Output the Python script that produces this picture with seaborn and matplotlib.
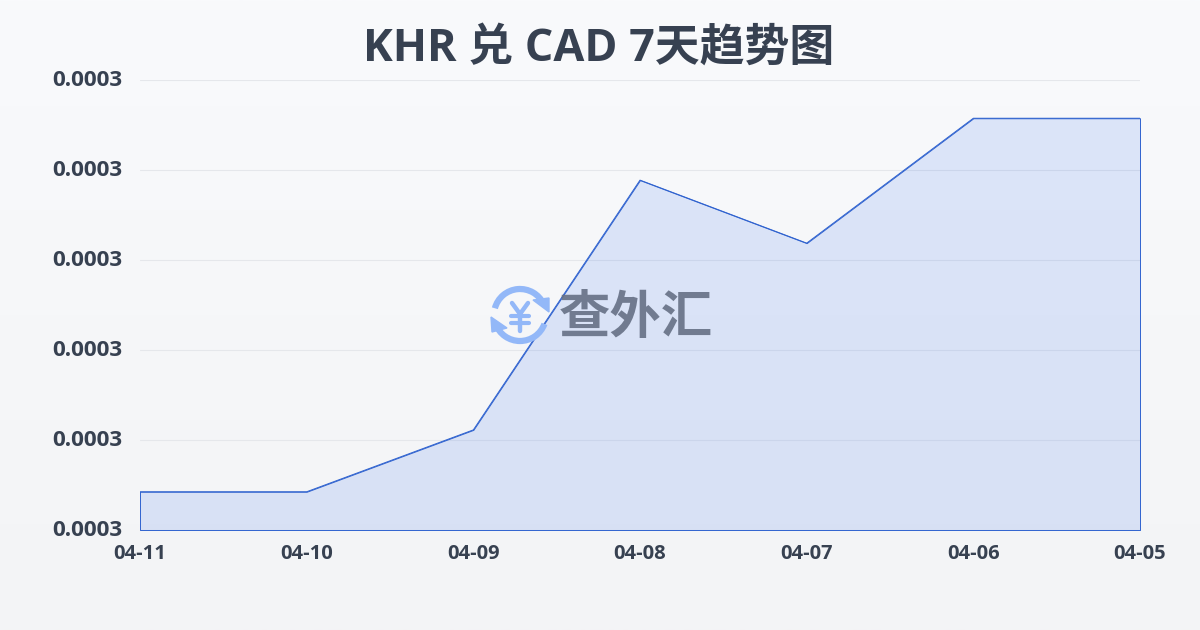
import numpy as np
import pandas as pd
import seaborn as sns
import matplotlib
matplotlib.use("Agg")
import matplotlib.pyplot as plt
from matplotlib.patches import Arc, Polygon
from matplotlib.ticker import FormatStrFormatter
from matplotlib.transforms import ScaledTranslation

dates = ["04-11", "04-10", "04-09", "04-08", "04-07", "04-06", "04-05"]
rates = [0.0003034, 0.0003034, 0.0003089, 0.0003311, 0.0003255, 0.0003366, 0.0003366]
y_ticks = [0.000300, 0.000308, 0.000316, 0.000324, 0.000332, 0.000340]
title = "KHR 兑 CAD 7天趋势图"
brand = "查外汇"

sns.set_theme(style="white")
FONT = ["Open Sans", "Noto Sans CJK SC", "DejaVu Sans"]
plt.rcParams["font.family"] = FONT
W, H = 1200, 630
TEXT = "#374151"
LINE = "#2f62cf"

fig = plt.figure(figsize=(W / 100, H / 100), dpi=100)

# page background gradient
bg = fig.add_axes([0, 0, 1, 1], zorder=-1)
top = np.array([0xf9, 0xfa, 0xfc]) / 255
bot = np.array([0xf3, 0xf4, 0xf6]) / 255
t = np.linspace(0, 1, 256)[:, None, None]
bg.imshow(top[None, None, :] * (1 - t) + bot[None, None, :] * t, aspect="auto",
          extent=[0, W, H, 0])
bg.axis("off")

ax = fig.add_axes([140 / W, 1 - 530 / H, 1000 / W, 450 / H], zorder=1)
ax.patch.set_alpha(0)
df = pd.DataFrame({"date": dates, "rate": rates})
sns.lineplot(data=df, x="date", y="rate", sort=False, color=LINE, linewidth=0.7,
             ax=ax, zorder=3)
ax.fill_between(dates, rates, y_ticks[0], facecolor=(0.145, 0.388, 0.922, 0.135),
                edgecolor=LINE, linewidth=0.7, zorder=2)
ax.set_xlim(0, len(dates) - 1)
ax.set_ylim(y_ticks[0], y_ticks[-1])
ax.set_yticks(y_ticks)
ax.yaxis.set_major_formatter(FormatStrFormatter("%.4f"))
ax.grid(axis="y", color="#e5e7eb", linewidth=0.8, zorder=1)
ax.set_axisbelow(True)
for s in ax.spines.values():
    s.set_visible(False)
ax.set_xlabel("")
ax.set_ylabel("")
ax.tick_params(axis="x", length=4, width=0.8, color="#e5e7eb", pad=6,
               labelsize=14.5 * 52 / 52, labelcolor=TEXT)
ax.tick_params(axis="y", length=0, pad=13, labelsize=16.2, labelcolor=TEXT)
for l in ax.get_xticklabels() + ax.get_yticklabels():
    l.set_fontweight("bold")
up2 = ScaledTranslation(0, 2 / 100, fig.dpi_scale_trans)
for l in ax.get_yticklabels():
    l.set_transform(l.get_transform() + up2)

fig.text(599 / W, 1 - 44 / H, title, ha="center", va="center_baseline", fontsize=32.3,
         fontweight="bold", color=TEXT, family=FONT)

# watermark logo, in page pixels
ov = fig.add_axes([0, 0, 1, 1], zorder=2)
ov.set_xlim(0, W)
ov.set_ylim(H, 0)
ov.axis("off")
LOGO = "#93b8f8"
cx, cy = 520, 315
ov.add_patch(Arc((cx, cy), 52, 52, theta1=195, theta2=335, color=LOGO, lw=4.5))
ov.add_patch(Arc((cx, cy), 52, 52, theta1=20, theta2=160, color=LOGO, lw=4.5))
ov.add_patch(Polygon([[533, 300], [549, 298], [549, 312]], color=LOGO))
ov.add_patch(Polygon([[491, 317], [507, 328], [492, 332]], color=LOGO))
ov.plot([512, 520, 528], [303, 314, 303], color=LOGO, lw=3.2, solid_capstyle="round")
ov.plot([520, 520], [314, 331], color=LOGO, lw=3.2, solid_capstyle="round")
ov.plot([511, 529], [316, 316], color=LOGO, lw=3, solid_capstyle="round")
ov.plot([511, 529], [323, 323], color=LOGO, lw=3, solid_capstyle="round")
ov.text(636, 318, brand, ha="center", va="center", fontsize=37, fontweight="bold",
        color="#667085", alpha=0.9, family=["Noto Sans CJK SC", "DejaVu Sans"])

fig.savefig("out.png", dpi=100)
